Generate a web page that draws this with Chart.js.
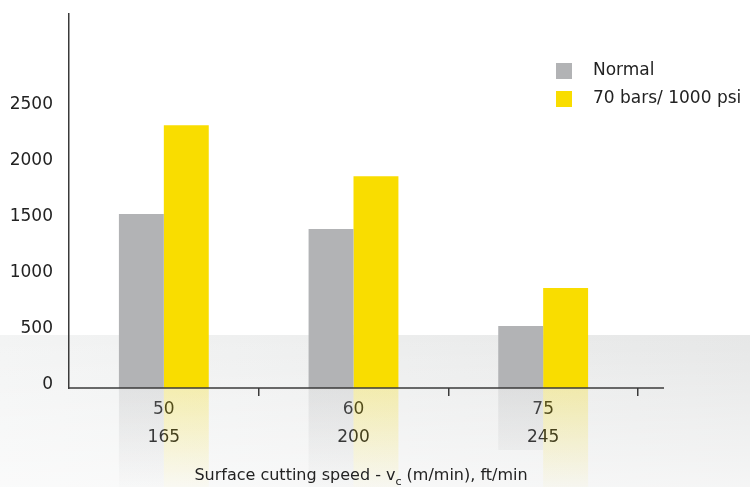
<!DOCTYPE html>
<html>
<head>
<meta charset="utf-8">
<script src="https://cdn.jsdelivr.net/npm/chart.js@4/dist/chart.umd.min.js"></script>
<style>
  html, body { margin: 0; padding: 0; background: #fff; }
  #wrap { width: 750px; height: 487px; }
</style>
</head>
<body>
<div id="wrap"><canvas id="speedChart"></canvas></div>
<script>
// data
const speedMetric = ['50', '60', '75'];
const speedImperial = ['165', '200', '245'];
const normalValues = [1550, 1415, 552];
const highPressureValues = [2340, 1886, 890];
const yTickValues = [0, 500, 1000, 1500, 2000, 2500];
const seriesNames = ['Normal', '70 bars/ 1000 psi'];

const GREY = '#b2b3b5';
const YELLOW = '#f9dd00';
const AXIS = '#3a3a3a';
const FONT = "'DejaVu Sans', sans-serif";

// grey floor band + mirrored reflections under the bars
const floorPlugin = {
  id: 'floor',
  beforeDraw(chart) {
    const { ctx, width, height } = chart;
    ctx.save();
    const top = 335;
    const h = ctx.createLinearGradient(0, 0, width, 0);
    h.addColorStop(0, '#f3f4f4');
    h.addColorStop(1, '#e6e7e7');
    ctx.fillStyle = h;
    ctx.fillRect(0, top, width, height - top);
    const v = ctx.createLinearGradient(0, top, 0, height);
    v.addColorStop(0, 'rgba(255,255,255,0)');
    v.addColorStop(1, 'rgba(255,255,255,0.6)');
    ctx.fillStyle = v;
    ctx.fillRect(0, top, width, height - top);
    ctx.restore();
  },
  beforeDatasetsDraw(chart) {
    const { ctx } = chart;
    ctx.save();
    chart.data.datasets.forEach((ds, i) => {
      chart.getDatasetMeta(i).data.forEach(bar => {
        const p = bar.getProps(['x', 'y', 'base', 'width'], true);
        const len = p.base - p.y;
        const g = ctx.createLinearGradient(0, p.base, 0, p.base + 110);
        const rgb = i === 0 ? '178,179,181' : '249,221,0';
        g.addColorStop(0, 'rgba(' + rgb + ',0.28)');
        g.addColorStop(1, 'rgba(' + rgb + ',0)');
        ctx.fillStyle = g;
        ctx.fillRect(p.x - p.width / 2, p.base, p.width, Math.min(len, 110));
      });
    });
    ctx.restore();
  },
  afterDraw(chart) {
    const { ctx, chartArea } = chart;
    ctx.save();
    // x axis line, runs past the last category
    ctx.strokeStyle = AXIS;
    ctx.lineWidth = 1.5;
    ctx.beginPath();
    ctx.moveTo(chartArea.left, chartArea.bottom);
    ctx.lineTo(664, chartArea.bottom);
    ctx.stroke();

    // legend
    ctx.font = '17px ' + FONT;
    ctx.textBaseline = 'middle';
    chart.data.datasets.forEach((ds, i) => {
      const y = 63 + i * 28;
      ctx.fillStyle = ds.backgroundColor;
      ctx.fillRect(556, y, 16, 16);
      ctx.fillStyle = '#222';
      ctx.fillText(ds.label, 593, y + 8);
    });

    // axis title with subscript
    const parts = [
      { t: 'Surface cutting speed - v', s: 16, dy: 0 },
      { t: 'c', s: 11, dy: 5 },
      { t: ' (m/min), ft/min', s: 16, dy: 0 }
    ];
    let total = 0;
    parts.forEach(p => { ctx.font = p.s + 'px ' + FONT; p.w = ctx.measureText(p.t).width; total += p.w; });
    let x = 361 - total / 2;
    ctx.fillStyle = '#222';
    ctx.textBaseline = 'alphabetic';
    parts.forEach(p => {
      ctx.font = p.s + 'px ' + FONT;
      ctx.fillText(p.t, x, 480 + p.dy);
      x += p.w;
    });
    ctx.restore();
  }
};

const ctxSpeed = document.getElementById('speedChart').getContext('2d');
new Chart(ctxSpeed, {
  type: 'bar',
  data: {
    labels: speedMetric.map((m, i) => [m, speedImperial[i]]),
    datasets: [
      { label: seriesNames[0], data: normalValues, backgroundColor: GREY },
      { label: seriesNames[1], data: highPressureValues, backgroundColor: YELLOW }
    ]
  },
  options: {
    responsive: true,
    maintainAspectRatio: false,
    animation: false,
    categoryPercentage: 90 / 190,
    barPercentage: 1,
    layout: { padding: { top: 14, right: 112, left: 0, bottom: 0 } },
    plugins: {
      legend: { display: false },
      title: { display: false },
      tooltip: { enabled: false }
    },
    scales: {
      x: {
        afterFit: s => { s.height = 99; s.paddingLeft = 0; s.paddingRight = 0; },
        border: { display: false },
        grid: {
          display: true,
          drawOnChartArea: false,
          drawTicks: true,
          tickLength: 8,
          offset: true,
          color: c => (c.index === 0 ? 'rgba(0,0,0,0)' : AXIS),
          lineWidth: 1.5
        },
        ticks: {
          color: '#222',
          padding: 0,
          font: { family: FONT, size: 17, lineHeight: 1.65 }
        }
      },
      y: {
        min: 0,
        max: 3330,
        afterFit: s => { s.width = 69; s.paddingTop = 0; s.paddingBottom = 0; },
        afterBuildTicks: s => { s.ticks = yTickValues.map(v => ({ value: v })); },
        border: { display: true, color: AXIS, width: 1.5 },
        grid: { display: false, drawTicks: false },
        ticks: {
          color: '#222',
          padding: 16,
          labelOffset: -3,
          callback: v => String(v),
          font: { family: FONT, size: 17 }
        }
      }
    }
  },
  plugins: [floorPlugin]
});
</script>
</body>
</html>
